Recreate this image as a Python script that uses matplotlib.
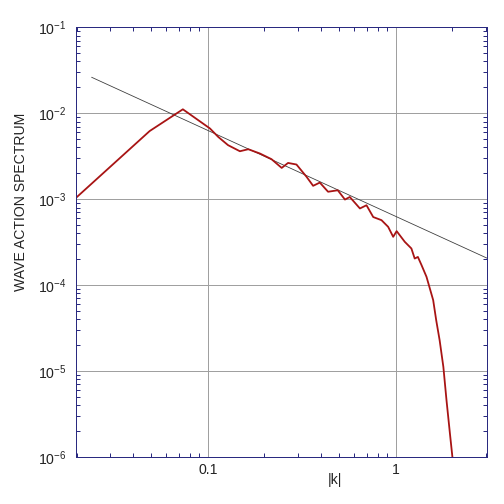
import numpy as np
import matplotlib
matplotlib.use("Agg")
import matplotlib.pyplot as plt
from matplotlib.ticker import LogLocator, NullFormatter

plt.rcParams['font.family'] = ['Liberation Sans', 'DejaVu Sans']

# wave action spectrum
k = [0.02, 0.049, 0.0736, 0.1026, 0.1135, 0.128, 0.148, 0.164, 0.189, 0.218,
     0.247, 0.267, 0.296, 0.335, 0.363, 0.394, 0.436, 0.491, 0.536, 0.569,
     0.644, 0.698, 0.758, 0.839, 0.91, 0.968, 1.01, 1.116, 1.21, 1.26, 1.31,
     1.37, 1.456, 1.58, 1.64, 1.71, 1.79, 1.86, 1.94, 2.0]
spec = [1.05e-3, 6.2e-3, 1.11e-2, 6.64e-3, 5.3e-3, 4.25e-3, 3.61e-3, 3.81e-3, 3.4e-3, 2.92e-3,
        2.31e-3, 2.64e-3, 2.53e-3, 1.82e-3, 1.43e-3, 1.56e-3, 1.22e-3, 1.27e-3, 9.9e-4, 1.06e-3,
        7.8e-4, 8.5e-4, 6.2e-4, 5.7e-4, 4.77e-4, 3.65e-4, 4.25e-4, 3.19e-4, 2.67e-4, 2.04e-4, 2.13e-4,
        1.71e-4, 1.25e-4, 6.7e-5, 3.9e-5, 2.29e-5, 1.12e-5, 4.6e-6, 1.88e-6, 1.0e-6]

# reference k^-1 line
k_ref = [0.0241, 3.05]
c_ref = 6.3e-4

fig = plt.figure(figsize=(7, 7), dpi=72)
ax = fig.add_axes([0.151, 0.093, 0.815, 0.853])

ax.plot(k_ref, [c_ref / v for v in k_ref], color='#3a3a3a', lw=0.8)
ax.plot(k, spec, color='#a81414', lw=1.8)

ax.set_xscale('log')
ax.set_yscale('log')
ax.set_xlim(0.0199, 3.05)
ax.set_ylim(1e-6, 1e-1)

ax.grid(True, which='major', color='#a0a0a0', lw=1.0)
navy = '#2a2a80'
for s in ax.spines.values():
    s.set_color(navy)
    s.set_linewidth(1.0)

ax.set_xticks([0.1, 1])
ax.set_xticklabels(['0.1', '1'])
ax.xaxis.set_minor_locator(LogLocator(base=10, subs=np.arange(2, 10), numticks=20))
ax.xaxis.set_minor_formatter(NullFormatter())
ax.yaxis.set_minor_locator(LogLocator(base=10, subs=np.arange(2, 10), numticks=20))
ax.yaxis.set_minor_formatter(NullFormatter())
ax.tick_params(which='both', direction='in', top=True, right=True, color=navy,
               labelsize=14, labelcolor='#222222')
ax.tick_params(which='major', length=0)
ax.tick_params(axis='x', which='major', pad=6)
ax.tick_params(axis='y', which='major', pad=10)
ax.tick_params(which='minor', length=4, width=1.0)

fig.text(21 / 504, 1 - 202 / 504, 'WAVE ACTION SPECTRUM', fontsize=14, color='#222222',
         rotation=90, ha='center', va='center')
fig.text(335 / 504, 1 - 480 / 504, '|k|', fontsize=14, color='#222222',
         ha='center', va='center')

fig.savefig('out.png', dpi=72)
